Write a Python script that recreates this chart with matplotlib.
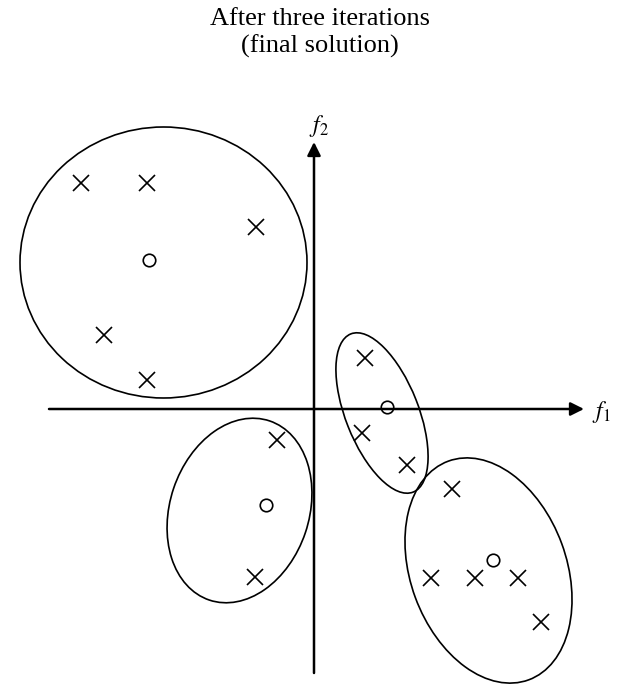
import matplotlib
matplotlib.use("Agg")
import matplotlib.pyplot as plt
from matplotlib.patches import Ellipse

plt.rcParams['font.family'] = ['Liberation Serif', 'DejaVu Serif']
plt.rcParams['mathtext.fontset'] = 'stix'

# cluster members (f1, f2)
cluster1_x = [-233, -167, -58, -210, -167]
cluster1_y = [226, 226, 182, 74, 29]
cluster2_x = [51, 48, 93]
cluster2_y = [51, -24, -56]
cluster3_x = [-37, -59]
cluster3_y = [-31, -168]
cluster4_x = [138, 117, 161, 204, 227]
cluster4_y = [-80, -169, -169, -169, -213]

# final centroids
centroid_x = [-165, 73, -48, 179]
centroid_y = [149, 2, -96, -151]

# cluster outlines: center x, center y, width, height, angle
outline_cx = [-150.5, 68, -74.5, 174.5]
outline_cy = [146.5, -4, -101.5, -161.5]
outline_w = [287, 73, 139, 156]
outline_h = [271, 170, 189, 233]
outline_angle = [0, 21.5, -18.6, 20.2]

TITLE = "After three iterations\n(final solution)"

fig = plt.figure(figsize=(6.17, 6.85), dpi=100)
ax = fig.add_axes([0, 0, 1, 1])
ax.set_xlim(-314, 303)
ax.set_ylim(-276, 409)
ax.set_aspect('equal')
ax.axis('off')

# axes with arrows
arrow = dict(arrowstyle='-|>', lw=1.8, color='black', mutation_scale=20,
             shrinkA=0, shrinkB=0)
ax.annotate('', xy=(270, 0), xytext=(-265, 0), arrowprops=arrow)
ax.annotate('', xy=(0, 267), xytext=(0, -264), arrowprops=arrow)
ax.text(287, -3, '$f_1$', fontsize=17, ha='center', va='center')
ax.text(5, 283, '$f_2$', fontsize=17, ha='center', va='center')

for cx, cy, w, h, a in zip(outline_cx, outline_cy, outline_w, outline_h, outline_angle):
    ax.add_patch(Ellipse((cx, cy), w, h, angle=a, fill=False, edgecolor='black', lw=1.2))

for xs, ys in [(cluster1_x, cluster1_y), (cluster2_x, cluster2_y),
               (cluster3_x, cluster3_y), (cluster4_x, cluster4_y)]:
    ax.plot(xs, ys, linestyle='none', marker='x', markersize=11, mew=1.2, color='black')

ax.plot(centroid_x, centroid_y, linestyle='none', marker='o', markersize=9,
        mfc='white', mec='black', mew=1.2)

ax.text(6, 376, TITLE, fontsize=19, ha='center', va='center', linespacing=1.25)

fig.savefig("out.png", dpi=100)
